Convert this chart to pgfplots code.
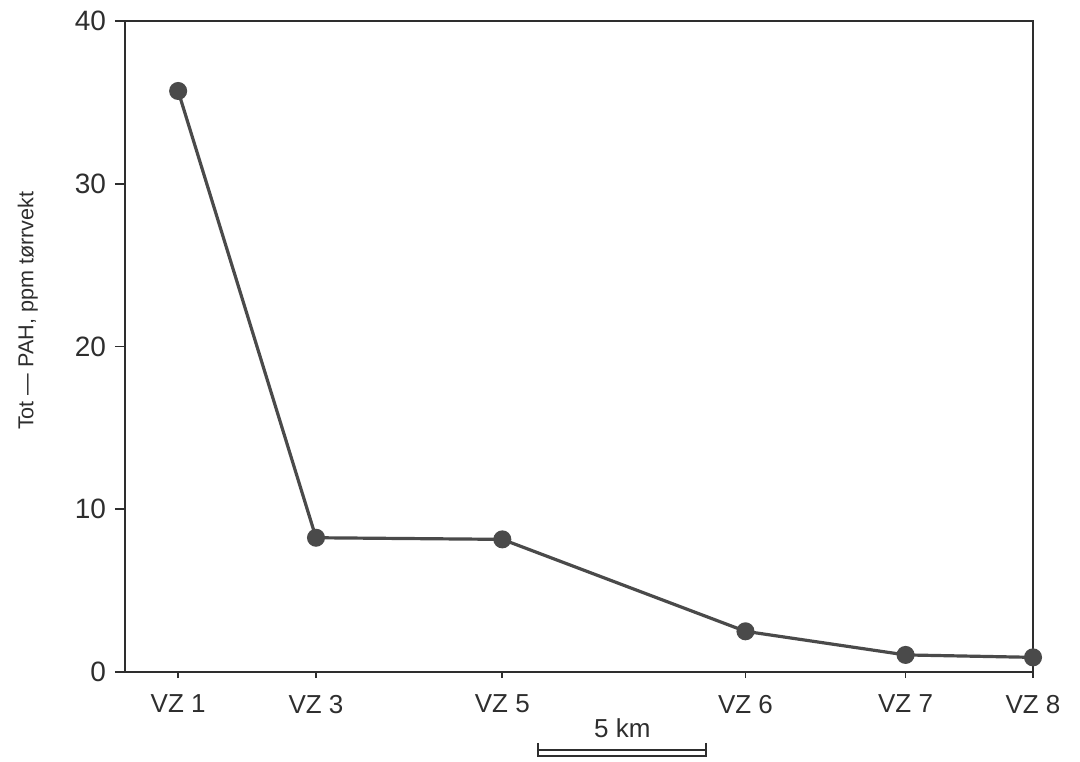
\documentclass[border=0pt]{standalone}
\usepackage{fontspec}
\setmainfont{Liberation Sans}
\usepackage{pgfplots}
\pgfplotsset{compat=1.18}

\definecolor{ink}{HTML}{2E2E2E}
\definecolor{trace}{HTML}{4A4A4A}

\begin{document}
\begin{tikzpicture}
  % page = 1080x761 px at 0.5pt per px, axis box from (125,21) to (1033,672)
  \useasboundingbox (-62.5pt,-44.5pt) rectangle (477.5pt,336pt);

  \begin{axis}[
    scale only axis,
    width  = 454pt,
    height = 325.5pt,
    at = {(0,0)}, anchor = south west,
    xmin = 0, xmax = 27.0,
    ymin = 0, ymax = 40,
    ytick = {0,10,20,30,40},
    xtick = {1.58,5.68,11.22,18.45,23.21,27.0},
    xticklabels = {VZ 1,VZ 3,VZ 5,VZ 6,VZ 7,VZ 8},
    tick align = outside,
    xtick pos = bottom,
    ytick pos = left,
    major tick length = 5pt,
    x tick style = {/pgfplots/major tick length=3pt},
    axis line style = {ink, line width=1.1pt},
    every tick/.style = {ink, line width=0.9pt},
    /pgf/number format/assume math mode = true,
    yticklabel style = {font=\fontsize{14}{14}\selectfont, text=ink, xshift=-1pt},
    xticklabel style = {font=\fontsize{13}{13}\selectfont, text=ink, yshift=-3pt},
    ylabel = {Tot --- PAH, ppm t\o rrvekt},
    y label style = {at={(axis description cs:-0.107,0.555)}, anchor=center,
                     font=\fontsize{10.8}{10.8}\selectfont, text=ink},
    clip = false,
  ]
    \addplot [trace, line width=1.6pt, mark=*, mark size=3.7pt,
              mark options={fill=trace, draw=trace}]
      coordinates {
        (1.58,35.7)
        (5.68,8.25)
        (11.22,8.15)
        (18.45,2.5)
        (23.21,1.05)
        (27.0,0.9)
      };

    % 5 km scale bar
    \draw [ink, line width=1pt]
      (axis cs:12.29,-4.80) rectangle (axis cs:17.29,-5.15);
    \draw [ink, line width=1pt]
      (axis cs:12.29,-4.35) -- (axis cs:12.29,-5.25)
      (axis cs:17.29,-4.35) -- (axis cs:17.29,-5.25);
    \node [font=\fontsize{13}{13}\selectfont, text=ink]
      at (axis cs:14.79,-3.45) {5 km};
  \end{axis}
\end{tikzpicture}
\end{document}
